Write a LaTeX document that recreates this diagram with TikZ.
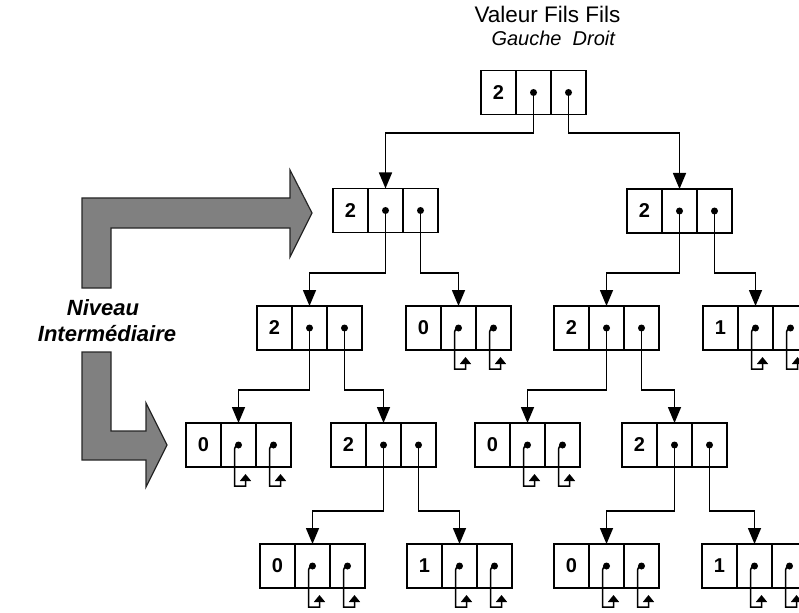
\documentclass[tikz,border=0pt]{standalone}
\usepackage{fontspec}
\setmainfont{Liberation Sans}
\usetikzlibrary{arrows.meta, calc}

% one tree node: value cell, then left and right pointer cells
\newcommand{\valbox}[4]{%
  \node [cell] (#1v) at (#2, #3) {\textbf{#4}};
  \node [cell, anchor=west] (#1l) at (#1v.east) {};
  \node [cell, anchor=west] (#1r) at (#1l.east) {};
  \fill (#1l.center) circle (3.5pt);
  \fill (#1r.center) circle (3.5pt);
}
% empty pointer, bent back to its own box
\newcommand{\nilptr}[1]{%
  \draw [nil] (#1.center) [rounded corners=4pt] -- ++(-4, 0) -- ++(0, 10)
    [sharp corners] -- ($(#1.south) + (-4, 19)$) -- ++(11, 0) -- ++(0, -12);
}

\begin{document}
\begin{tikzpicture}[x=1pt, y=-1pt]
    \tikzstyle{cell} = [draw, line width=1.5pt, minimum width=35pt, minimum height=44pt,
                        inner sep=0pt, outer sep=0pt, font=\fontsize{20}{20}\selectfont]
    \tikzstyle{link} = [line width=1.5pt, -{Triangle[length=16pt, width=13pt]}]
    \tikzstyle{nil} = [line width=1.5pt, -{Triangle[length=7pt, width=11pt]}]
    \tikzstyle{bigarrow} = [draw=black!85, line width=1.2pt, fill=black!50]
    \tikzstyle{level} = [font=\fontsize{22}{22}\selectfont\bfseries\itshape]

    \useasboundingbox (0, 0) rectangle (799, 612);
    \clip (0, 0) rectangle (799, 612);

    % column titles
    \node [anchor=base west, font=\fontsize{22.5}{22.5}\selectfont] (title) at (471, 23) {Valeur Fils Fils};
    \node [anchor=base west, font=\fontsize{20}{20}\selectfont\itshape] (subtitle) at (488, 46) {Gauche~ Droit};

    % the tree
    \valbox{root}{498.5}{92.5}{2}
    \valbox{A}{350.5}{210.5}{2}
    \valbox{B}{644.5}{211}{2}
    \valbox{C}{274.5}{328}{2}
    \valbox{D}{423.5}{328}{0}
    \valbox{E}{571.5}{328}{2}
    \valbox{F}{720.5}{328}{1}
    \valbox{G}{203.5}{445}{0}
    \valbox{H}{348.5}{445}{2}
    \valbox{I}{492.5}{445}{0}
    \valbox{J}{639.5}{445}{2}
    \valbox{K}{277.5}{566}{0}
    \valbox{L}{424.5}{566}{1}
    \valbox{M}{571.5}{566}{0}
    \valbox{N}{719.5}{566}{1}

    \coordinate (lvA) at (0, 133);
    \coordinate (lvB) at (0, 273);
    \coordinate (lvC) at (0, 390);
    \coordinate (lvD) at (0, 511);

    \foreach \a/\b/\lv in {rootl/Al/lvA, rootr/Bl/lvA, Al/Cl/lvB, Ar/Dl/lvB,
                           Bl/El/lvB, Br/Fl/lvB, Cl/Gl/lvC, Cr/Hl/lvC,
                           El/Il/lvC, Er/Jl/lvC, Hl/Kl/lvD, Hr/Ll/lvD,
                           Jl/Ml/lvD, Jr/Nl/lvD}
      \draw [link] (\a.center) -- (\a.center |- \lv) -| (\b.north);

    \foreach \n in {Dl, Dr, Fl, Fr, Gl, Gr, Il, Ir, Kl, Kr, Ll, Lr, Ml, Mr, Nl, Nr}
      {\nilptr{\n}}

    % intermediate level marks
    \draw [bigarrow] (82, 198) -- (290, 198) -- (290, 170) -- (312, 213) -- (290, 257)
      -- (290, 228) -- (111, 228) -- (111, 288) -- (82, 288) -- cycle;
    \draw [bigarrow] (82, 352) -- (111, 352) -- (111, 431) -- (146, 431) -- (146, 403)
      -- (167, 445) -- (146, 487) -- (146, 460) -- (82, 460) -- cycle;
    \node [level, anchor=base] (niv) at (103, 315) {Niveau};
    \node [level, anchor=base] (inter) at (107, 341) {Intermédiaire};
\end{tikzpicture}
\end{document}
